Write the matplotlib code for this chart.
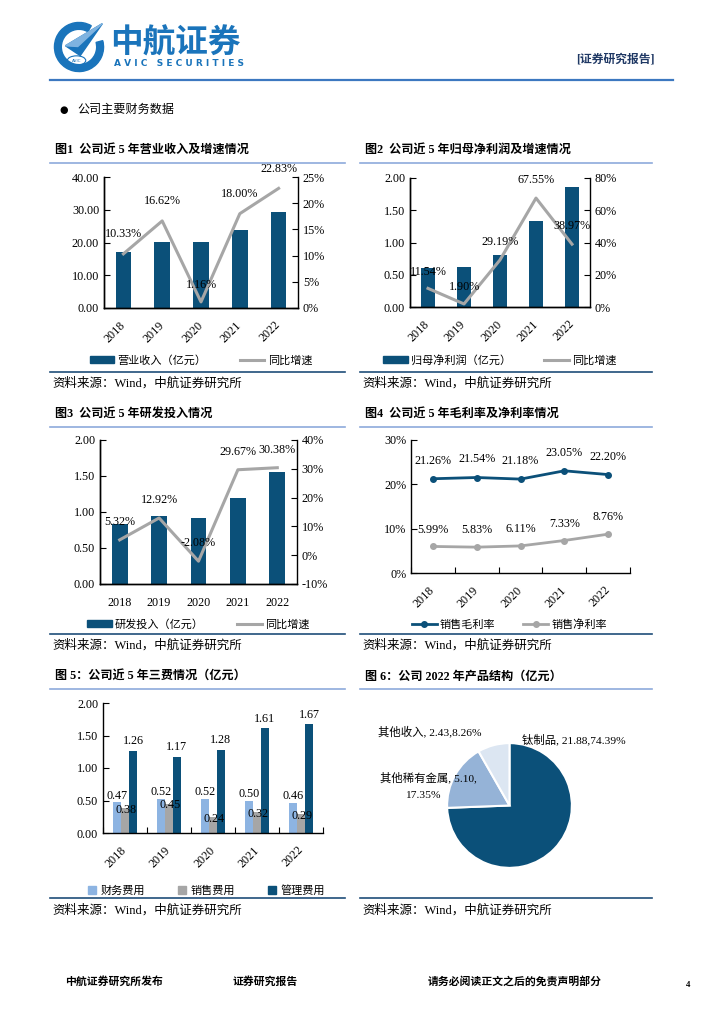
import numpy as np
import matplotlib
matplotlib.use("Agg")
import matplotlib.pyplot as plt
from matplotlib.patches import Patch, Wedge, Polygon, Ellipse
from matplotlib.lines import Line2D

plt.rcParams['font.family'] = ['Liberation Serif', 'Noto Sans CJK SC', 'DejaVu Sans']
plt.rcParams['axes.unicode_minus'] = False

# ---- data ----
years = ['2018', '2019', '2020', '2021', '2022']
revenue = [17.20, 20.06, 20.29, 23.94, 29.41]
revenue_yoy = [10.33, 16.62, 1.16, 18.00, 22.83]
net_profit = [0.61, 0.62, 0.80, 1.34, 1.86]
net_profit_yoy = [11.54, 1.90, 29.19, 67.55, 38.97]
rd = [0.835, 0.943, 0.923, 1.197, 1.56]
rd_yoy = [5.32, 12.92, -2.08, 29.67, 30.38]
gross_margin = [21.26, 21.54, 21.18, 23.05, 22.20]
net_margin = [5.99, 5.83, 6.11, 7.33, 8.76]
fin_exp = [0.47, 0.52, 0.52, 0.50, 0.46]
sales_exp = [0.38, 0.45, 0.24, 0.32, 0.29]
admin_exp = [1.26, 1.17, 1.28, 1.61, 1.67]
product_names = ['钛制品', '其他稀有金属', '其他收入']
product_values = [21.88, 5.10, 2.43]
product_share = [74.39, 17.35, 8.26]

DARK = '#0b5079'
GRAY = '#a6a6a6'
LBLUE = '#8db4e2'
LINE_TOP = '#8eaadb'
LINE_BOT = '#1f4e79'
FS = 8.7

W, H = 724, 1024
fig = plt.figure(figsize=(7.24, 10.24), dpi=100)


def px_axes(l, t, r, b):
    return fig.add_axes([l / W, 1 - b / H, (r - l) / W, (b - t) / H])


def ftext(x, y, s, **kw):
    fig.text(x / W, 1 - y / H, s, **kw)


def hline(x0, x1, y, color, lw):
    fig.add_artist(Line2D([x0 / W, x1 / W], [1 - y / H] * 2, color=color, lw=lw))


def frame(x0, x1, title, t_y, top_y, bot_y, src_y):
    ftext(x0 + 5, t_y, title, fontsize=8.7, fontweight='bold', va='center')
    hline(x0, x1, top_y, LINE_TOP, 1.2)
    hline(x0, x1, bot_y, LINE_BOT, 1.2)
    ftext(x0 + 2, src_y, '资料来源：Wind，中航证券研究所', fontsize=9, va='center')


def style_axis(ax):
    ax.tick_params(direction='in', length=4, labelsize=FS, width=0.8)
    for s in ax.spines.values():
        s.set_linewidth(1.0)
    ax.spines['top'].set_visible(False)


def bar_line(box, bars, yoy, ylim, yticks, ylim2, yticks2, rotate, bar_label, leg_y, offsets):
    ax = px_axes(*box)
    x = np.arange(len(years))
    ax.bar(x, bars, width=0.4, color=DARK, zorder=2)
    ax.set_xlim(-0.5, 4.5)
    ax.set_ylim(*ylim)
    ax.set_yticks(yticks)
    ax.yaxis.set_major_formatter('{x:.2f}')
    ax.set_xticks(x)
    if rotate:
        ax.set_xticklabels(years, rotation=45, ha='right', va='center', rotation_mode='anchor')
    else:
        ax.set_xticklabels(years)
    style_axis(ax)
    ax.tick_params(axis='x', length=0, pad=11 if rotate else 9)
    ax.spines['right'].set_visible(False)
    ax2 = ax.twinx()
    ax2.plot(x, yoy, color=GRAY, lw=2.2, zorder=3)
    ax2.set_ylim(*ylim2)
    ax2.set_yticks(yticks2)
    ax2.yaxis.set_major_formatter('{x:.0f}%')
    style_axis(ax2)
    for xi, v, off in zip(x, yoy, offsets):
        ax2.annotate(f'{v:.2f}%', (xi, v), xytext=(0, off), textcoords='offset points',
                     ha='center', va='center', fontsize=FS)
    handles = [Patch(color=DARK), Line2D([0], [0], color=GRAY, lw=2.2)]
    ax.legend(handles, [bar_label, '同比增速'], loc='center', ncol=2, frameon=False,
              bbox_to_anchor=(0.5, leg_y), fontsize=8, handlelength=2.2, handleheight=0.6,
              columnspacing=3.0, handletextpad=0.3)
    return ax


# ---- header ----
lg = px_axes(52, 20, 106, 74)
lg.set_xlim(-1.1, 1.1)
lg.set_ylim(-1.1, 1.1)
lg.set_aspect('equal')
lg.axis('off')
lg.add_patch(Wedge((0, 0), 1.0, 60, 15, width=0.28, color='#1a74bb'))
lg.add_patch(Polygon([(-0.55, 0.05), (0.95, 0.95), (0.05, -0.35)], color='#1a74bb'))
lg.add_patch(Polygon([(-0.55, 0.05), (0.95, 0.95), (-0.05, 0.02)], color='#7fb3e0'))
lg.add_patch(Ellipse((-0.1, -0.55), 0.75, 0.38, fill=False, ec='#1a74bb', lw=0.8))
lg.text(-0.1, -0.55, 'AVIC', fontsize=3, color='#1a74bb', ha='center', va='center', family='DejaVu Sans')
ftext(110, 43, '中航证券', fontsize=23.5, fontweight='bold', color='#1a74bb', va='center',
      family=['Noto Sans CJK SC'])
ftext(114, 64, 'A V I C   S E C U R I T I E S', fontsize=6.5, color='#1a74bb', va='center',
      family='DejaVu Sans', fontweight='bold')
ftext(655, 59, '[证券研究报告]', fontsize=8.5, fontweight='bold', color='#1f3864', va='center', ha='right')
hline(50, 673, 80, '#3c78c0', 1.6)
ftext(59, 110, '●', fontsize=7, va='center', family=['DejaVu Sans'])
ftext(77, 110, '公司主要财务数据', fontsize=8.7, va='center')

# ---- chart 1 ----
frame(50, 345, '图1  公司近 5 年营业收入及增速情况', 150, 163, 372, 383)
bar_line((104, 177, 298, 308), revenue, revenue_yoy, (0, 40), [0, 10, 20, 30, 40],
         (0, 25), [0, 5, 10, 15, 20, 25], True, '营业收入（亿元）', -0.40, [14, 14, 12, 14, 14])

# ---- chart 2 ----
frame(360, 652, '图2  公司近 5 年归母净利润及增速情况', 150, 163, 372, 383)
bar_line((410, 178, 590, 307), net_profit, net_profit_yoy, (0, 2), [0, 0.5, 1, 1.5, 2],
         (0, 80), [0, 20, 40, 60, 80], True, '归母净利润（亿元）', -0.41, [12, 12, 13, 13, 13])

# ---- chart 3 ----
frame(50, 345, '图3  公司近 5 年研发投入情况', 414, 427, 634, 645)
bar_line((100, 440, 297, 584), rd, rd_yoy, (0, 2), [0, 0.5, 1, 1.5, 2],
         (-10, 40), [-10, 0, 10, 20, 30, 40], False, '研发投入（亿元）', -0.28, [13, 13, 13, 13, 13])

# ---- chart 4 ----
frame(360, 652, '图4  公司近 5 年毛利率及净利率情况', 414, 427, 634, 645)
ax4 = px_axes(411, 440, 630, 573)
x = np.arange(len(years))
ax4.plot(x, gross_margin, color=DARK, lw=2, marker='o', ms=4)
ax4.plot(x, net_margin, color=GRAY, lw=2, marker='o', ms=4)
ax4.set_xlim(-0.5, 4.5)
ax4.set_ylim(0, 30)
ax4.set_yticks([0, 10, 20, 30])
ax4.yaxis.set_major_formatter('{x:.0f}%')
ax4.set_xticks(x)
ax4.set_xticklabels(years, rotation=45, ha='right', va='center', rotation_mode='anchor')
ax4.set_xticks(np.arange(-0.5, 5, 1), minor=True)
style_axis(ax4)
ax4.tick_params(axis='x', which='major', length=0, pad=11)
ax4.tick_params(axis='x', which='minor', direction='in', length=4, width=0.8)
ax4.spines['right'].set_visible(False)
for xi, v in zip(x, gross_margin):
    ax4.annotate(f'{v:.2f}%', (xi, v), xytext=(0, 13), textcoords='offset points',
                 ha='center', va='center', fontsize=FS)
for xi, v in zip(x, net_margin):
    ax4.annotate(f'{v:.2f}%', (xi, v), xytext=(0, 12), textcoords='offset points',
                 ha='center', va='center', fontsize=FS)
h4 = [Line2D([0], [0], color=DARK, lw=2, marker='o', ms=4),
      Line2D([0], [0], color=GRAY, lw=2, marker='o', ms=4)]
ax4.legend(h4, ['销售毛利率', '销售净利率'], loc='center', ncol=2, frameon=False,
           bbox_to_anchor=(0.45, -0.39), fontsize=8, handlelength=2.2,
           columnspacing=2.5, handletextpad=0.3)

# ---- chart 5 ----
frame(50, 345, '图 5：公司近 5 年三费情况（亿元）', 676, 689, 898, 910)
ax5 = px_axes(103, 703, 323, 833)
bw = 0.18
ax5.bar(x - bw, fin_exp, width=bw, color=LBLUE, zorder=2)
ax5.bar(x, sales_exp, width=bw, color=GRAY, zorder=2)
ax5.bar(x + bw, admin_exp, width=bw, color=DARK, zorder=2)
ax5.set_xlim(-0.5, 4.5)
ax5.set_ylim(0, 2)
ax5.set_yticks([0, 0.5, 1, 1.5, 2])
ax5.yaxis.set_major_formatter('{x:.2f}')
ax5.set_xticks(x)
ax5.set_xticklabels(years, rotation=45, ha='right', va='center', rotation_mode='anchor')
ax5.set_xticks(np.arange(-0.5, 5, 1), minor=True)
style_axis(ax5)
ax5.tick_params(axis='x', which='major', length=0, pad=11)
ax5.tick_params(axis='x', which='minor', direction='in', length=4, width=0.8)
ax5.spines['right'].set_visible(False)
for xi, a, b, c in zip(x, fin_exp, sales_exp, admin_exp):
    ax5.annotate(f'{a:.2f}', (xi - bw, a), xytext=(0, 5), textcoords='offset points',
                 ha='center', va='center', fontsize=FS)
    ax5.annotate(f'{b:.2f}', (xi + 0.03, b), xytext=(0, -1), textcoords='offset points',
                 ha='center', va='center', fontsize=FS)
    ax5.annotate(f'{c:.2f}', (xi + bw, c), xytext=(0, 7), textcoords='offset points',
                 ha='center', va='center', fontsize=FS)
h5 = [Patch(color=LBLUE), Patch(color=GRAY), Patch(color=DARK)]
ax5.legend(h5, ['财务费用', '销售费用', '管理费用'], loc='center', ncol=3, frameon=False,
           bbox_to_anchor=(0.47, -0.44), fontsize=8, handlelength=0.7, handleheight=0.7,
           columnspacing=3.0, handletextpad=0.4)

# ---- chart 6 ----
frame(360, 652, '图 6：公司 2022 年产品结构（亿元）', 676, 689, 898, 910)
ax6 = px_axes(444, 740, 575, 871)
ax6.pie(product_values, colors=[DARK, '#95b3d7', '#dce6f2'], startangle=90, counterclock=False,
        wedgeprops=dict(edgecolor='white', linewidth=1.5))
ax6.set_xlim(-1.05, 1.05)
ax6.set_ylim(-1.05, 1.05)
ax6.set_aspect('equal')
ftext(522, 739, f'{product_names[0]}, {product_values[0]:.2f},{product_share[0]:.2f}%',
      fontsize=8.2, va='center')
ftext(378, 731, f'{product_names[2]}, {product_values[2]:.2f},{product_share[2]:.2f}%',
      fontsize=8.2, va='center')
ftext(380, 777, f'{product_names[1]}, {product_values[1]:.2f},', fontsize=8.2, va='center')
ftext(405, 795, f'{product_share[1]:.2f}%', fontsize=8.2, va='center')

# ---- footer ----
ftext(65, 981, '中航证券研究所发布', fontsize=7.8, fontweight='bold', va='center')
ftext(233, 981, '证券研究报告', fontsize=7.8, fontweight='bold', va='center')
ftext(428, 981, '请务必阅读正文之后的免责声明部分', fontsize=7.8, fontweight='bold', va='center')
ftext(686, 985, '4', fontsize=6.5, fontweight='bold', va='center')

fig.savefig('out.png', dpi=100)
